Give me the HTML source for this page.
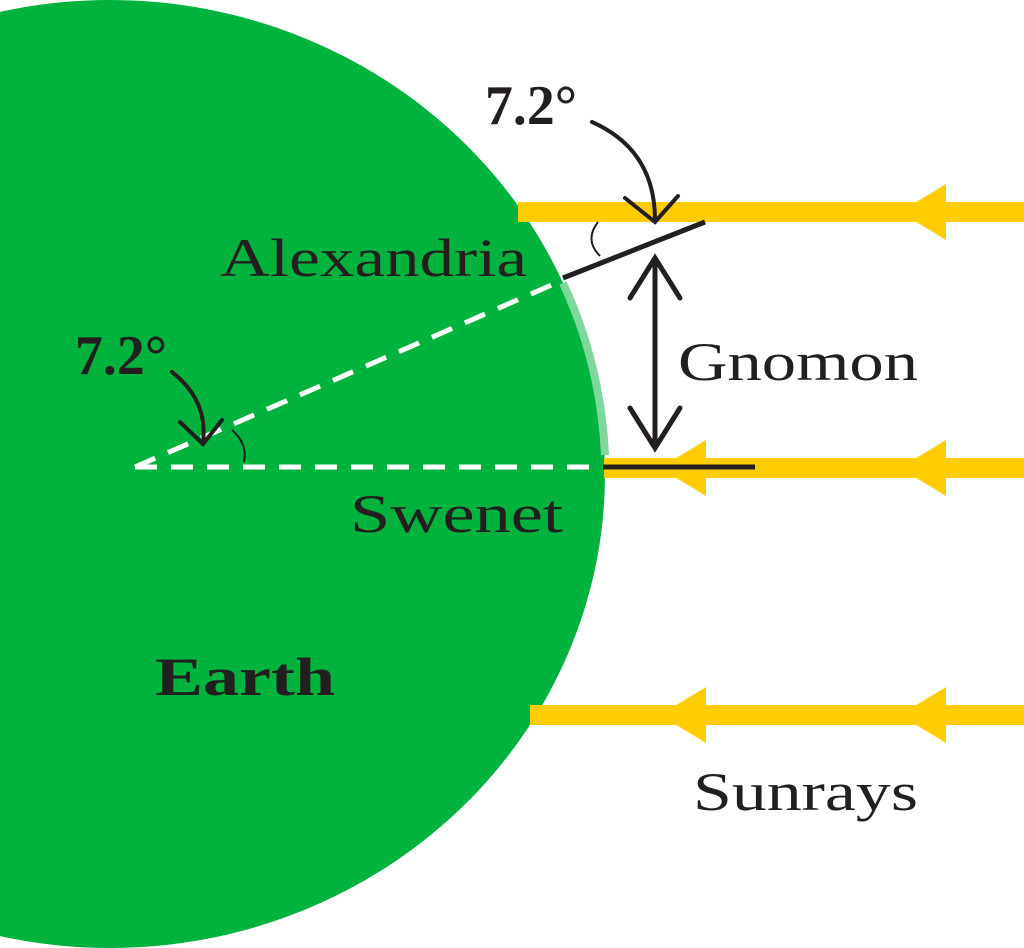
<!DOCTYPE html>
<html><head><meta charset="utf-8"><style>
html,body{margin:0;padding:0;background:#fff;}
svg{display:block;}
text{font-family:"Liberation Serif",serif;fill:#231f20;}
</style></head><body>
<svg width="1024" height="948" viewBox="0 0 1024 948">
<ellipse cx="110" cy="474" rx="495" ry="474" fill="#00b33c"/>
<path d="M563 283 A495 474 0 0 1 605 455" fill="none" stroke="#7fd89a" stroke-width="8"/>
<g fill="#ffcc00">
<rect x="518" y="202" width="506" height="20"/>
<polygon points="900,212 946,184 946,240"/>
<rect x="604" y="458" width="420" height="20"/>
<polygon points="660,468 706,440 706,496"/>
<polygon points="900,468 946,440 946,496"/>
<rect x="530" y="705" width="494" height="20"/>
<polygon points="660,715 706,687 706,743"/>
<polygon points="900,715 946,687 946,743"/>
</g>
<line x1="135" y1="467" x2="603" y2="467" stroke="#fff" stroke-width="5" stroke-dasharray="22,14"/>
<line x1="135" y1="467" x2="563" y2="280" stroke="#fff" stroke-width="5" stroke-dasharray="22,14"/>
<line x1="563" y1="278" x2="705" y2="222" stroke="#231f20" stroke-width="5"/>
<line x1="603" y1="467" x2="755" y2="467" stroke="#231f20" stroke-width="5"/>
<path d="M598 222 Q584 240 600 256" fill="none" stroke="#231f20" stroke-width="2"/>
<path d="M232 430 Q248 444 244 462" fill="none" stroke="#231f20" stroke-width="2"/>
<g stroke="#231f20" stroke-width="5" fill="none" stroke-linecap="round">
<line x1="655" y1="262" x2="655" y2="444"/>
<polyline points="630,298 655,258 680,298"/>
<polyline points="630,408 655,448 680,408"/>
</g>
<g stroke="#231f20" stroke-width="4" fill="none" stroke-linecap="round">
<path d="M592 122 Q655 150 655 220"/>
<polyline points="625,198 655,222 678,196"/>
<path d="M172 372 Q208 400 203 442"/>
<polyline points="180,422 203,444 222,420"/>
</g>
<text x="485" y="124" font-size="56" font-weight="bold" textLength="92" lengthAdjust="spacingAndGlyphs">7.2°</text>
<text x="75" y="374" font-size="56" font-weight="bold" textLength="92" lengthAdjust="spacingAndGlyphs">7.2°</text>
<text x="220" y="276" font-size="54" textLength="307" lengthAdjust="spacingAndGlyphs">Alexandria</text>
<text x="678" y="380" font-size="54" textLength="240" lengthAdjust="spacingAndGlyphs">Gnomon</text>
<text x="350" y="532" font-size="54" textLength="213" lengthAdjust="spacingAndGlyphs">Swenet</text>
<text x="155" y="695" font-size="54" font-weight="bold" textLength="180" lengthAdjust="spacingAndGlyphs">Earth</text>
<text x="693" y="810" font-size="54" textLength="225" lengthAdjust="spacingAndGlyphs">Sunrays</text>
</svg>
</body></html>
